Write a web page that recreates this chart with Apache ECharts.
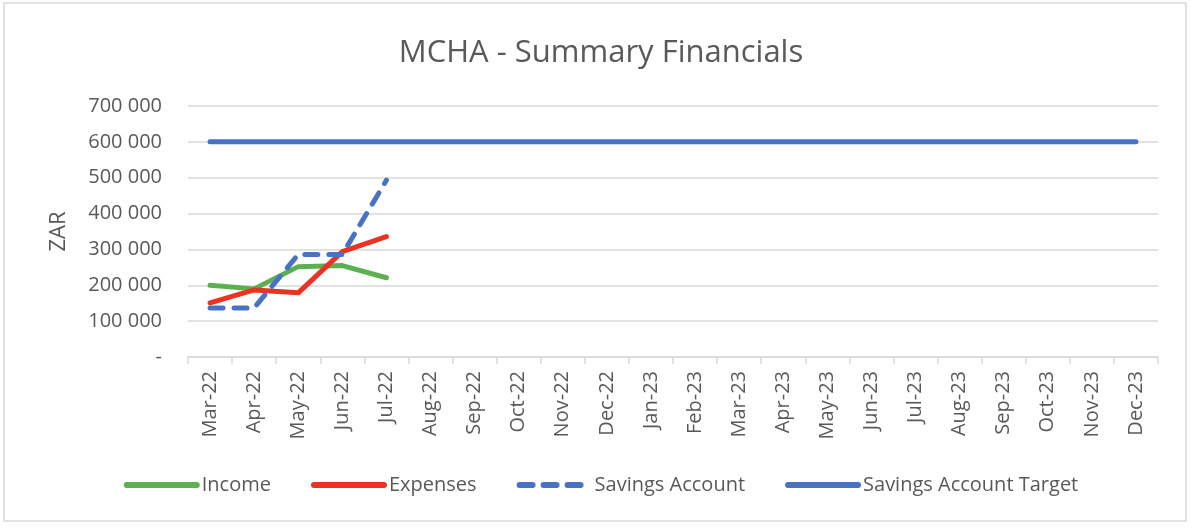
<!DOCTYPE html>
<html>
<head>
<meta charset="utf-8">
<script src="https://cdn.jsdelivr.net/npm/echarts@6/dist/echarts.min.js"></script>
<style>
    html, body { margin: 0; padding: 0; background: #fff; }
    #chart { width: 1202px; height: 532px; }
</style>
</head>
<body>
<div id="chart"></div>
<script>
// months on the x axis
var months = ['Mar-22', 'Apr-22', 'May-22', 'Jun-22', 'Jul-22', 'Aug-22', 'Sep-22', 'Oct-22',
    'Nov-22', 'Dec-22', 'Jan-23', 'Feb-23', 'Mar-23', 'Apr-23', 'May-23', 'Jun-23',
    'Jul-23', 'Aug-23', 'Sep-23', 'Oct-23', 'Nov-23', 'Dec-23'];

// only the first months have actuals
var income = [200000, 190000, 252000, 255000, 221000];
var expenses = [151000, 187000, 179000, 294000, 336000];
var savings = [137000, 137000, 286000, 286000, 493000];
var savingsTarget = [600000, 600000, 600000, 600000, 600000, 600000, 600000, 600000,
    600000, 600000, 600000, 600000, 600000, 600000, 600000, 600000,
    600000, 600000, 600000, 600000, 600000, 600000];

var fontFamily = '"Open Sans", sans-serif';
var textGrey = '#595959';

var finTitle = {
    text: 'MCHA - Summary Financials',
    left: 'center',
    top: 33,
    textStyle: {
        fontSize: 31,
        fontWeight: 'normal',
        color: textGrey,
        fontFamily: fontFamily
    }
};

var finLegend = {
    bottom: 32,
    left: 'center',
    itemWidth: 70,
    itemHeight: 14,
    itemGap: 40,
    itemStyle: {opacity: 0},
    lineStyle: {width: 6, cap: 'round'},
    textStyle: {fontSize: 20, color: textGrey, fontFamily: fontFamily},
    data: ['Income', 'Expenses', 'Savings Account', 'Savings Account Target']
};

var finxAxis = {
    type: 'category',
    data: months,
    boundaryGap: true,
    axisLine: {lineStyle: {color: '#d9d9d9', width: 1.5}},
    axisTick: {show: true, length: 7, lineStyle: {color: '#d9d9d9', width: 1.5}},
    axisLabel: {
        rotate: 90,
        interval: 0,
        margin: 14,
        fontSize: 20,
        color: textGrey,
        fontFamily: fontFamily
    },
    splitLine: {show: false}
};

var finyAxis = {
    type: 'value',
    min: 0,
    max: 700000,
    interval: 100000,
    name: 'ZAR',
    nameLocation: 'middle',
    nameGap: 118,
    nameRotate: 90,
    nameTextStyle: {fontSize: 22, color: textGrey, fontFamily: fontFamily},
    axisLine: {show: false},
    axisTick: {show: false},
    axisLabel: {
        margin: 26,
        fontSize: 20,
        color: textGrey,
        fontFamily: fontFamily,
        formatter: function (v) {
            if (v === 0) {
                return '-';
            }
            return String(v).replace(/\B(?=(\d{3})+(?!\d))/g, ' ');
        }
    },
    splitLine: {lineStyle: {color: '#d9d9d9', width: 1.5}}
};

function lineSeries(name, data, color, dashed) {
    return {
        name: name,
        type: 'line',
        data: data,
        symbol: 'none',
        smooth: false,
        lineStyle: {
            color: color,
            width: 5,
            type: dashed ? [13, 11] : 'solid',
            cap: 'round',
            join: 'round'
        },
        itemStyle: {color: color},
        z: dashed ? 4 : 3
    };
}

var finOption = {
    animation: false,
    backgroundColor: '#fff',
    title: finTitle,
    legend: finLegend,
    grid: {left: 188, right: 44, top: 106, bottom: 175, containLabel: false},
    xAxis: finxAxis,
    yAxis: finyAxis,
    graphic: [{
        type: 'rect',
        shape: {x: 4, y: 3, width: 1182, height: 518},
        style: {fill: 'none', stroke: '#d9d9d9', lineWidth: 1.5},
        silent: true
    }],
    series: [
        lineSeries('Income', income, '#5bb04f', false),
        lineSeries('Expenses', expenses, '#ec3323', false),
        lineSeries('Savings Account', savings, '#4a72c4', true),
        lineSeries('Savings Account Target', savingsTarget, '#4a72c4', false)
    ]
};

var finChart = echarts.init(document.getElementById('chart'));
finChart.setOption(finOption, true);

window.addEventListener('resize', function () {
    finChart.resize();
});
</script>
</body>
</html>
